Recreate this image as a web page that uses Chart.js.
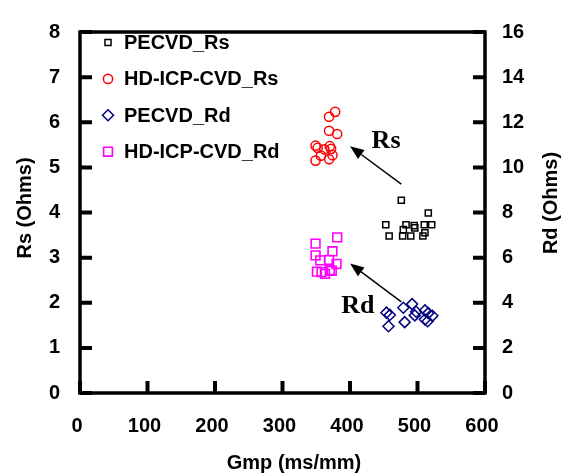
<!DOCTYPE html>
<html>
<head>
<meta charset="utf-8">
<script src="https://cdn.jsdelivr.net/npm/chart.js@4/dist/chart.umd.min.js"></script>
<style>
  html, body { margin: 0; padding: 0; background: #fff; }
  #wrap { width: 567px; height: 475px; }
</style>
</head>
<body>
<div id="wrap"><canvas id="chart" width="567" height="475"></canvas></div>
<script>
// Gmp (ms/mm) vs Rs / Rd (Ohms)
const pecvdRsX = [476, 516, 453, 483, 495, 496, 510, 521, 479, 458, 478, 490, 508, 511];
const pecvdRsY = [4.27, 3.99, 3.73, 3.73, 3.71, 3.66, 3.73, 3.73, 3.62, 3.48, 3.48, 3.48, 3.48, 3.55];

const hdRsX = [378, 369, 369, 381, 349, 352, 370, 372, 362, 357, 374, 349, 369];
const hdRsY = [6.23, 6.12, 5.81, 5.74, 5.48, 5.43, 5.47, 5.41, 5.40, 5.26, 5.27, 5.15, 5.18];

const pecvdRdX = [479, 492, 454, 459, 498, 496, 511, 516, 522, 481, 511, 515, 457];
const pecvdRdY = [3.78, 3.94, 3.56, 3.46, 3.60, 3.44, 3.66, 3.54, 3.42, 3.14, 3.26, 3.18, 2.96];

const hdRdX = [381, 349, 349, 374, 356, 369, 380, 351, 363, 370, 358, 373];
const hdRdY = [6.90, 6.62, 6.10, 6.28, 5.88, 5.90, 5.72, 5.38, 5.28, 5.44, 5.36, 5.42];

const xTicks = [0, 100, 200, 300, 400, 500, 600];
const rsTicks = [0, 1, 2, 3, 4, 5, 6, 7, 8];
const rdTicks = [0, 2, 4, 6, 8, 10, 12, 14, 16];

// arrows + labels in data units (Rs axis)
const arrows = [
  { from: [476, 4.63], to: [400, 5.47], label: 'Rs', at: [432, 5.43] },
  { from: [476, 2.02], to: [400, 2.87], label: 'Rd', at: [387, 1.77] },
];

const FONT = 'Liberation Sans, Arial, sans-serif';
const tickFont = { family: FONT, size: 20, weight: 'bold' };

const toPoints = (xs, ys) => xs.map((x, i) => ({ x: x, y: ys[i] }));

const datasets = [
  { label: 'PECVD_Rs', data: toPoints(pecvdRsX, pecvdRsY), yAxisID: 'y',
    pointStyle: 'rect', pointRadius: 4.3, borderColor: '#000000', borderWidth: 1.5 },
  { label: 'HD-ICP-CVD_Rs', data: toPoints(hdRsX, hdRsY), yAxisID: 'y',
    pointStyle: 'circle', pointRadius: 4.6, borderColor: '#ff0000', borderWidth: 1.5 },
  { label: 'PECVD_Rd', data: toPoints(pecvdRdX, pecvdRdY), yAxisID: 'y2',
    pointStyle: 'rectRot', pointRadius: 5.5, borderColor: '#000080', borderWidth: 1.5 },
  { label: 'HD-ICP-CVD_Rd', data: toPoints(hdRdX, hdRdY), yAxisID: 'y2',
    pointStyle: 'rect', pointRadius: 6.2, borderColor: '#ff00ff', borderWidth: 1.6 },
];
datasets.forEach(d => { d.backgroundColor = 'rgba(0,0,0,0)'; d.pointHoverRadius = d.pointRadius; });

const frame = {
  id: 'frame',
  afterDraw(chart) {
    const ctx = chart.ctx;
    const a = chart.chartArea;
    const sx = chart.scales.x, sy = chart.scales.y, sy2 = chart.scales.y2;
    ctx.save();
    ctx.strokeStyle = '#000';
    ctx.lineWidth = 4;
    ctx.lineCap = 'butt';
    // inward ticks
    ctx.beginPath();
    xTicks.forEach(v => {
      const px = sx.getPixelForValue(v);
      ctx.moveTo(px, a.bottom); ctx.lineTo(px, a.bottom - 12);
    });
    rsTicks.forEach(v => {
      const py = sy.getPixelForValue(v);
      ctx.moveTo(a.left, py); ctx.lineTo(a.left + 12, py);
    });
    rdTicks.forEach(v => {
      const py = sy2.getPixelForValue(v);
      ctx.moveTo(a.right, py); ctx.lineTo(a.right - 12, py);
    });
    ctx.stroke();
    ctx.lineWidth = 3.5;
    ctx.strokeRect(a.left, a.top, a.right - a.left, a.bottom - a.top);

    // axis titles
    ctx.fillStyle = '#000';
    ctx.font = 'bold 20px ' + FONT;
    ctx.textAlign = 'center';
    ctx.textBaseline = 'middle';
    ctx.fillText('Gmp (ms/mm)', 294, 463);
    ctx.save();
    ctx.translate(25, 208); ctx.rotate(-Math.PI / 2);
    ctx.fillText('Rs (Ohms)', 0, 0);
    ctx.restore();
    ctx.save();
    ctx.translate(551, 203); ctx.rotate(-Math.PI / 2);
    ctx.fillText('Rd (Ohms)', 0, 0);
    ctx.restore();

    // arrows and labels
    ctx.lineWidth = 1.5;
    arrows.forEach(ar => {
      const x1 = sx.getPixelForValue(ar.from[0]), y1 = sy.getPixelForValue(ar.from[1]);
      const x2 = sx.getPixelForValue(ar.to[0]), y2 = sy.getPixelForValue(ar.to[1]);
      const ang = Math.atan2(y2 - y1, x2 - x1);
      const hl = 14, hw = 5.5;
      const bx = x2 - hl * Math.cos(ang), by = y2 - hl * Math.sin(ang);
      ctx.beginPath();
      ctx.moveTo(x1, y1); ctx.lineTo(bx, by);
      ctx.stroke();
      ctx.beginPath();
      ctx.moveTo(x2, y2);
      ctx.lineTo(bx + hw * Math.sin(ang), by - hw * Math.cos(ang));
      ctx.lineTo(bx - hw * Math.sin(ang), by + hw * Math.cos(ang));
      ctx.closePath();
      ctx.fill();
      ctx.font = 'bold 26px Liberation Serif, Times New Roman, serif';
      ctx.textAlign = 'left';
      ctx.textBaseline = 'alphabetic';
      ctx.fillText(ar.label, sx.getPixelForValue(ar.at[0]), sy.getPixelForValue(ar.at[1]));
    });

    // legend
    ctx.font = 'bold 20px ' + FONT;
    ctx.textAlign = 'left';
    ctx.textBaseline = 'middle';
    chart.data.datasets.forEach((d, i) => {
      const y = 42.5 + i * 36.4;
      ctx.strokeStyle = d.borderColor;
      ctx.fillStyle = 'rgba(0,0,0,0)';
      ctx.lineWidth = d.borderWidth;
      Chart.helpers.drawPoint(ctx, { pointStyle: d.pointStyle, radius: d.pointRadius, rotation: 0, borderWidth: d.borderWidth }, 108, y);
      ctx.fillStyle = '#000';
      ctx.fillText(d.label, 124, y + 1);
    });
    ctx.restore();
  }
};

const axisBase = {
  type: 'linear',
  grid: { display: false, drawTicks: false },
  border: { display: false },
};

new Chart(document.getElementById('chart'), {
  type: 'scatter',
  data: { datasets: datasets },
  options: {
    responsive: false,
    animation: false,
    events: [],
    layout: { padding: { top: 13, left: 0, right: 0, bottom: 0 } },
    plugins: { legend: { display: false }, tooltip: { enabled: false } },
    scales: {
      x: {
        ...axisBase, min: 0, max: 600,
        ticks: { stepSize: 100, font: tickFont, color: '#000', padding: 21, labelOffset: -3, maxRotation: 0 },
        afterFit: s => { s.height = 82; }
      },
      y: {
        ...axisBase, position: 'left', min: 0, max: 8,
        ticks: { stepSize: 1, font: tickFont, color: '#000', padding: 20 },
        afterFit: s => { s.width = 80; }
      },
      y2: {
        ...axisBase, position: 'right', min: 0, max: 16,
        ticks: { stepSize: 2, font: tickFont, color: '#000', padding: 17 },
        afterFit: s => { s.width = 82; }
      }
    }
  },
  plugins: [frame]
});
</script>
</body>
</html>
